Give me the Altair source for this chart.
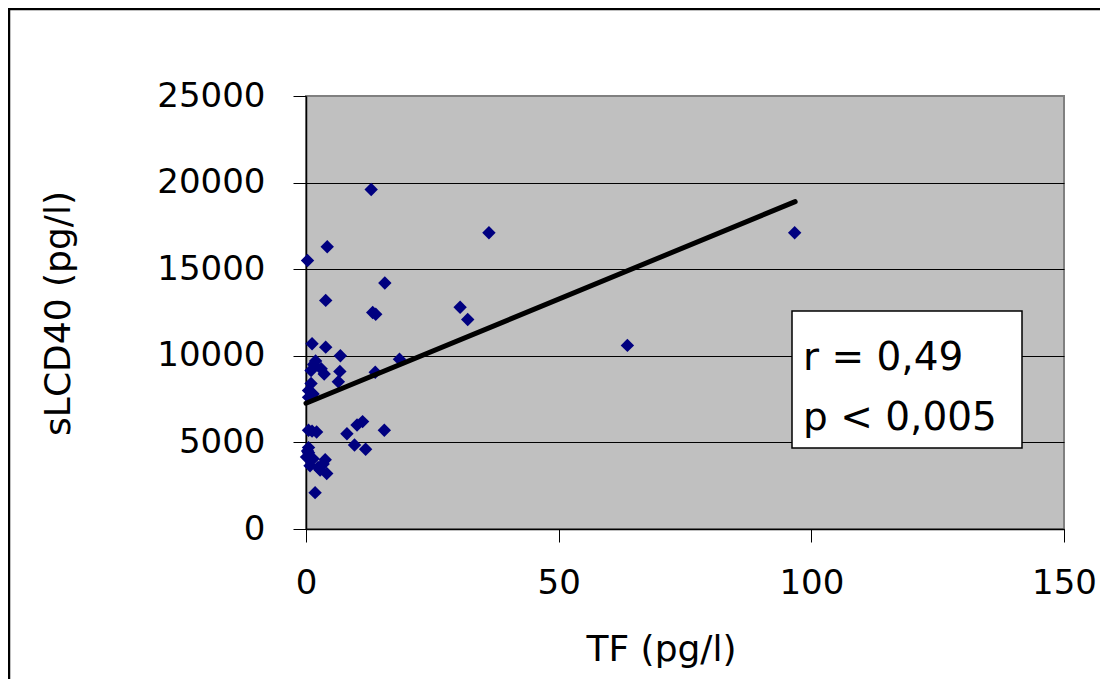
import altair as alt
import pandas as pd

# Scatter data: TF (pg/l) vs sLCD40 (pg/l)
tf = [12.9, 4.2, 0.3, 15.6, 3.9, 13.2, 13.8, 36.2, 30.5, 32.0,
      1.2, 3.9, 6.8, 18.5, 96.7, 63.6, 1.9, 1.0, 3.0, 3.6,
      6.7, 6.4, 1.0, 0.5, 1.4, 0.5, 13.7, 0.5, 2.1, 1.2,
      8.1, 10.1, 11.2, 15.5, 9.6, 11.8, 0.5, 0.5, 0.1, 1.4,
      3.8, 3.4, 0.8, 2.4, 4.1, 1.8, 2.8, 0.3, 1.5]
slcd40 = [19600, 16300, 15500, 14200, 13200, 12500, 12400, 17100, 12800, 12100,
          10700, 10500, 10000, 9800, 17100, 10600, 9700, 9150, 9250, 8950,
          9100, 8500, 8400, 8000, 7800, 7600, 9050, 5700, 5600, 5650,
          5500, 6000, 6200, 5700, 4850, 4600, 4700, 4400, 4150, 4050,
          4000, 3750, 3650, 3550, 3200, 2100, 3400, 4500, 9500]

trend_x = [0, 96.8]
trend_y = [7260, 18900]

x_ticks = [0, 50, 100, 150]
y_ticks = [0, 5000, 10000, 15000, 20000, 25000]
annotation = "r = 0,49\np < 0,005"

FONT = "DejaVu Sans"

pts = pd.DataFrame({"TF": tf, "sLCD40": slcd40})
trend = pd.DataFrame({"TF": trend_x, "sLCD40": trend_y})
one = pd.DataFrame({"a": [0]})

xscale = alt.Scale(domain=[0, 150], nice=False)
yscale = alt.Scale(domain=[0, 25000], nice=False)

x_axis = alt.Axis(
    values=x_ticks, grid=False, title="TF (pg/l)", format="d",
    labelFont=FONT, labelFontSize=34, labelColor="black", labelPadding=24,
    labelFlush=False,
    tickSize=13, tickColor="black", domainColor="black", domainWidth=1.5,
    titleFont=FONT, titleFontSize=36, titleFontWeight="normal", titleColor="black",
    titleX=355, titleY=131, titleAlign="center", titleBaseline="alphabetic",
)
y_axis = alt.Axis(
    values=y_ticks, grid=True, title="sLCD40 (pg/l)", format="d",
    gridColor={"condition": {"test": "datum.value == 25000", "value": "#808080"}, "value": "black"},
    gridWidth=1,
    labelFont=FONT, labelFontSize=34, labelColor="black", labelPadding=28,
    labelFlush=False,
    tickSize=13, tickColor="black", domainColor="black", domainWidth=1.5,
    titleFont=FONT, titleFontSize=36, titleFontWeight="normal", titleColor="black",
    titleX=-229, titleY=217, titleAlign="center", titleBaseline="bottom",
)

points = alt.Chart(pts).mark_point(
    shape="diamond", filled=True, color="#000080", size=180, opacity=1
).encode(
    x=alt.X("TF:Q", scale=xscale, axis=x_axis),
    y=alt.Y("sLCD40:Q", scale=yscale, axis=y_axis),
)

line = alt.Chart(trend).mark_line(color="black", strokeWidth=5, strokeCap="round").encode(
    x=alt.X("TF:Q", scale=xscale),
    y=alt.Y("sLCD40:Q", scale=yscale),
)

box = alt.Chart(one).mark_rect(fill="white", stroke="black", strokeWidth=1.5).encode(
    x=alt.value(486), x2=alt.value(716), y=alt.value(215), y2=alt.value(352)
)

txt = alt.Chart(one).mark_text(
    text=annotation, lineBreak="\n", lineHeight=60, align="left", baseline="alphabetic",
    font=FONT, fontSize=39, color="black"
).encode(x=alt.value(497), y=alt.value(274))

frame_top = alt.Chart(one).mark_rule(color="black", strokeWidth=2.5).encode(
    x=alt.value(-298), x2=alt.value(800), y=alt.value(-87)
)
frame_left = alt.Chart(one).mark_rule(color="black", strokeWidth=2.5).encode(
    x=alt.value(-297), y=alt.value(-88), y2=alt.value(700)
)

chart = alt.layer(points, line, box, txt, frame_top, frame_left).properties(
    width=758, height=433,
    autosize=alt.AutoSizeParams(type="none"),
    padding={"left": 298, "top": 88, "right": 36, "bottom": 150},
    background="white",
).configure_view(
    fill="#C0C0C0", stroke="#808080", strokeWidth=2
)

chart.save("out.html", embed_options={"renderer": "svg", "actions": False})
